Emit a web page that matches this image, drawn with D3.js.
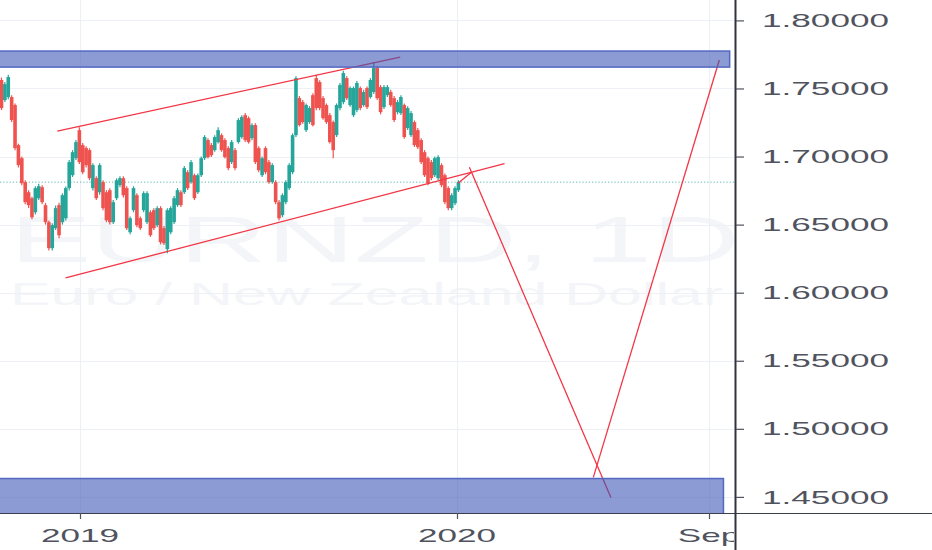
<!DOCTYPE html>
<html><head><meta charset="utf-8">
<script src="https://cdn.jsdelivr.net/npm/d3@7/dist/d3.min.js"></script>
<style>html,body{margin:0;padding:0;background:#fff;overflow:hidden}svg{display:block}</style>
</head><body><svg id="c" width="932" height="550"></svg>
<script>
// ---------- DATA ----------
const symbolTitle = "EURNZD, 1D";
const symbolName = "Euro / New Zealand Dollar";
const priceTicks = [1.45, 1.50, 1.55, 1.60, 1.65, 1.70, 1.75, 1.80];
const timeTickDates = ["2019-01-01", "2020-01-01", "2020-09-01"];
const timeTickLabels = ["2019", "2020", "Sep"];
const firstCandleDate = "2018-10-17";
const candleStepDays = 3.277;
const opens = [1.7562,1.7415,1.7437,1.7437,1.7378,1.7084,1.6988,1.6812,1.6738,1.6694,
1.6591,1.6694,1.6775,1.6643,1.6518,1.6327,1.6474,1.6643,1.6518,1.6547,
1.6768,1.6863,1.6988,1.7194,1.7084,1.7062,1.7047,1.6768,1.6841,1.6738,
1.6812,1.6738,1.6753,1.6518,1.6694,1.6790,1.6841,1.6768,1.6444,1.6606,
1.6716,1.6547,1.6606,1.6518,1.6591,1.6606,1.6496,1.6621,1.6474,1.6320,
1.6444,1.6518,1.6643,1.6738,1.6738,1.6885,1.6812,1.6863,1.6738,1.6863,
1.6988,1.7121,1.7084,1.7047,1.7106,1.7157,1.7121,1.7062,1.6959,1.7047,
1.7106,1.7143,1.7304,1.7282,1.7135,1.7231,1.7062,1.6863,1.7062,1.6959,
1.6812,1.6812,1.6665,1.6569,1.6665,1.6768,1.6885,1.7157,1.7429,1.7400,
1.7194,1.7253,1.7451,1.7576,1.7547,1.7429,1.7378,1.7304,1.7253,1.7157,
1.7356,1.7400,1.7576,1.7378,1.7304,1.7341,1.7503,1.7378,1.7503,1.7437,
1.7474,1.7650,1.7510,1.7363,1.7451,1.7474,1.7429,1.7326,1.7319,1.7378,
1.7209,1.7157,1.7253,1.7194,1.7121,1.7032,1.6988,1.6959,1.6863,1.6841,
1.6937,1.6863,1.6768,1.6621,1.6657,1.6753];
const highs = [1.7580,1.7547,1.7600,1.7451,1.7390,1.7095,1.7000,1.6826,1.6753,1.6705,
1.6782,1.6800,1.6790,1.6660,1.6530,1.6510,1.6640,1.6660,1.6730,1.6780,
1.6975,1.7047,1.7121,1.7215,1.7100,1.7075,1.7060,1.6950,1.6855,1.6950,
1.6826,1.6753,1.6768,1.6680,1.6840,1.6855,1.6855,1.6782,1.6560,1.6782,
1.6730,1.6560,1.6745,1.6745,1.6605,1.6620,1.6635,1.6635,1.6490,1.6620,
1.6635,1.6710,1.6768,1.6753,1.6930,1.6900,1.6975,1.6875,1.6875,1.7000,
1.7157,1.7135,1.7100,1.7157,1.7215,1.7170,1.7135,1.7075,1.7121,1.7062,
1.7282,1.7304,1.7320,1.7295,1.7245,1.7245,1.7075,1.7000,1.7075,1.6975,
1.6950,1.6826,1.6680,1.6730,1.6826,1.6950,1.7170,1.7590,1.7445,1.7415,
1.7390,1.7370,1.7465,1.7600,1.7560,1.7445,1.7390,1.7320,1.7265,1.7390,
1.7540,1.7630,1.7590,1.7515,1.7515,1.7555,1.7515,1.7490,1.7515,1.7576,
1.7694,1.7665,1.7525,1.7525,1.7525,1.7490,1.7445,1.7415,1.7451,1.7390,
1.7370,1.7335,1.7265,1.7209,1.7135,1.7047,1.7000,1.6975,1.7000,1.7010,
1.6950,1.6875,1.6782,1.6730,1.6782,1.6826];
const lows = [1.7341,1.7400,1.7420,1.7253,1.7047,1.6920,1.6790,1.6650,1.6621,1.6540,
1.6575,1.6680,1.6650,1.6500,1.6310,1.6310,1.6460,1.6400,1.6500,1.6530,
1.6750,1.6850,1.6975,1.6945,1.6870,1.6920,1.6826,1.6750,1.6680,1.6720,
1.6606,1.6518,1.6500,1.6505,1.6680,1.6775,1.6700,1.6460,1.6430,1.6590,
1.6480,1.6460,1.6590,1.6505,1.6410,1.6460,1.6480,1.6355,1.6350,1.6290,
1.6430,1.6505,1.6630,1.6630,1.6725,1.6755,1.6800,1.6680,1.6725,1.6850,
1.6975,1.6985,1.6996,1.7035,1.7095,1.7035,1.6985,1.6900,1.6945,1.6900,
1.7095,1.7130,1.7106,1.7095,1.7120,1.6945,1.6885,1.6850,1.6870,1.6800,
1.6800,1.6650,1.6532,1.6555,1.6650,1.6755,1.6870,1.7143,1.7220,1.7240,
1.7180,1.7240,1.7220,1.7340,1.7340,1.7270,1.7240,1.7095,1.6988,1.7143,
1.7340,1.7385,1.7415,1.7365,1.7290,1.7326,1.7340,1.7365,1.7350,1.7425,
1.7460,1.7415,1.7310,1.7350,1.7437,1.7365,1.7253,1.7310,1.7305,1.7130,
1.7195,1.7143,1.7070,1.7055,1.6945,1.6850,1.6790,1.6826,1.6850,1.6826,
1.6775,1.6650,1.6606,1.6606,1.6643,1.6740];
const closes = [1.7356,1.7532,1.7584,1.7268,1.7062,1.6937,1.6804,1.6665,1.6643,1.6554,
1.6768,1.6782,1.6665,1.6518,1.6327,1.6496,1.6621,1.6422,1.6716,1.6768,
1.6959,1.7032,1.7106,1.6959,1.6885,1.6937,1.6841,1.6937,1.6694,1.6937,
1.6621,1.6532,1.6518,1.6665,1.6826,1.6841,1.6716,1.6474,1.6547,1.6768,
1.6496,1.6474,1.6731,1.6731,1.6422,1.6474,1.6621,1.6371,1.6363,1.6606,
1.6621,1.6694,1.6753,1.6643,1.6915,1.6768,1.6959,1.6694,1.6863,1.6988,
1.7143,1.6996,1.7010,1.7143,1.7194,1.7047,1.6996,1.6915,1.7106,1.6915,
1.7268,1.7290,1.7121,1.7106,1.7231,1.6959,1.6900,1.6988,1.6885,1.6812,
1.6937,1.6665,1.6547,1.6716,1.6812,1.6937,1.7157,1.7576,1.7231,1.7253,
1.7378,1.7356,1.7231,1.7356,1.7356,1.7282,1.7253,1.7106,1.7047,1.7378,
1.7525,1.7613,1.7429,1.7503,1.7503,1.7540,1.7356,1.7474,1.7363,1.7562,
1.7650,1.7429,1.7326,1.7510,1.7510,1.7378,1.7268,1.7400,1.7437,1.7143,
1.7356,1.7319,1.7084,1.7069,1.6959,1.6863,1.6804,1.6841,1.6988,1.6996,
1.6790,1.6665,1.6621,1.6716,1.6768,1.6812];
// drawings: trend lines [date, price] pairs
const upperChannel = [["2018-12-10", 1.7187], ["2019-11-07", 1.7731]];
const lowerChannel = [["2018-12-18", 1.6108], ["2020-02-16", 1.6948]];
const projUp1 = [["2020-01-02", 1.6804], ["2020-01-15", 1.6885]];
const projDown = [["2020-01-13", 1.6922], ["2020-05-29", 1.4496]];
const projUp2 = [["2020-05-12", 1.4643], ["2020-09-11", 1.7709]];
// zones: [startDate, endDate, topPrice, bottomPrice]
const upperZone = ["2018-09-01", "2020-09-21", 1.7775, 1.7657];
const lowerZone = ["2018-09-01", "2020-09-15", 1.4635, 1.4300];

// ---------- LAYOUT ----------
const W = 932, H = 550, plotW = 734, plotH = 513;
const svg = d3.select("#c");
const parse = d3.utcParse("%Y-%m-%d");
const x = d3.scaleUtc().domain([parse("2019-01-01"), parse("2020-09-01")]).range([80, 709]);
const y = d3.scaleLinear().domain([1.45, 1.80]).range([496.9, 20.4]);
const SX = 1.9; // horizontal stretch of the picture text
const font = "'Liberation Sans', Arial, sans-serif";

const t0 = parse(firstCandleDate).getTime();
const candles = closes.map((c, i) => ({
  date: new Date(t0 + i * candleStepDays * 86400000),
  o: opens[i], h: highs[i], l: lows[i], c: c
}));

svg.append("rect").attr("width", W).attr("height", H).attr("fill", "#fff");
svg.append("clipPath").attr("id", "plotclip").append("rect").attr("width", plotW).attr("height", plotH);
const plot = svg.append("g").attr("clip-path", "url(#plotclip)");

// watermark
plot.append("text").attr("transform", `translate(10,262) scale(${SX},1)`)
  .attr("font-family", font).attr("font-size", 64).attr("fill", "#f4f5f8").text(symbolTitle);
plot.append("text").attr("transform", `translate(10,305) scale(${SX},1)`)
  .attr("font-family", font).attr("font-size", 32).attr("fill", "#f4f5f8").text(symbolName);

// grid
plot.append("g").selectAll("line").data(priceTicks).join("line")
  .attr("x1", 0).attr("x2", plotW).attr("y1", d => Math.round(y(d)) + 0.5).attr("y2", d => Math.round(y(d)) + 0.5)
  .attr("stroke", "#edf0f6").attr("stroke-width", 1.2);
plot.append("g").selectAll("line").data(timeTickDates).join("line")
  .attr("x1", d => Math.round(x(parse(d))) + 0.5).attr("x2", d => Math.round(x(parse(d))) + 0.5)
  .attr("y1", 0).attr("y2", plotH).attr("stroke", "#edf0f6").attr("stroke-width", 1.2);

// last price line
const lastClose = closes[closes.length - 1];
plot.append("line").attr("x1", 0).attr("x2", plotW)
  .attr("y1", y(lastClose)).attr("y2", y(lastClose))
  .attr("stroke", "#26a69a").attr("stroke-opacity", 0.75).attr("stroke-dasharray", "1.2 2");

// candles
const up = "#26a69a", dn = "#ef5350";
const cg = plot.append("g");
cg.selectAll("line").data(candles).join("line")
  .attr("x1", d => x(d.date)).attr("x2", d => x(d.date))
  .attr("y1", d => y(d.h)).attr("y2", d => y(d.l))
  .attr("stroke", d => d.c >= d.o ? up : dn).attr("stroke-width", 1.2);
cg.selectAll("rect").data(candles).join("rect")
  .attr("x", d => x(d.date) - 1.8).attr("width", 3.6)
  .attr("y", d => y(Math.max(d.o, d.c)))
  .attr("height", d => Math.max(1, Math.abs(y(d.o) - y(d.c))))
  .attr("fill", d => d.c >= d.o ? up : dn);

// trend lines
const line = d3.line().x(d => x(parse(d[0]))).y(d => y(d[1]));
[upperChannel, lowerChannel, projUp1, projDown, projUp2].forEach(seg => {
  plot.append("path").attr("d", line(seg)).attr("fill", "none")
    .attr("stroke", "#f23645").attr("stroke-width", 1.3);
});

// zones
[upperZone, lowerZone].forEach(z => {
  const x0 = x(parse(z[0])), x1 = x(parse(z[1]));
  plot.append("rect").attr("x", x0).attr("width", x1 - x0)
    .attr("y", y(z[2])).attr("height", y(z[3]) - y(z[2]))
    .attr("fill", "rgba(57,83,180,0.58)").attr("stroke", "#5368c2").attr("stroke-width", 1.5);
});

// axes
svg.append("line").attr("x1", 0).attr("x2", W).attr("y1", plotH + 0.5).attr("y2", plotH + 0.5)
  .attr("stroke", "#3b3f4b").attr("stroke-width", 1);
svg.append("line").attr("x1", 735.5).attr("x2", 735.5).attr("y1", 0).attr("y2", H)
  .attr("stroke", "#2f333e").attr("stroke-width", 2);

const yAxis = d3.axisRight(y).tickValues(priceTicks).tickSize(8).tickFormat("");
svg.append("g").attr("transform", "translate(736,0)").call(yAxis)
  .call(g => g.select(".domain").remove())
  .call(g => g.selectAll(".tick line").attr("stroke", "#50535e").attr("stroke-width", 1.2));
svg.append("g").selectAll("text").data(priceTicks).join("text")
  .attr("transform", d => `translate(762,${y(d) + 6.6}) scale(${SX},1)`)
  .attr("font-family", font).attr("font-size", 18.5).attr("fill", "#50535e")
  .text(d => d.toFixed(5));

const xAxis = d3.axisBottom(x).tickValues(timeTickDates.map(parse)).tickSize(6).tickFormat("");
svg.append("g").attr("transform", `translate(0,${plotH})`).call(xAxis)
  .call(g => g.select(".domain").remove())
  .call(g => g.selectAll(".tick line").attr("stroke", "#50535e").attr("stroke-width", 1.2));
svg.append("clipPath").attr("id", "xclip").append("rect").attr("width", 734).attr("height", H);
svg.append("g").attr("clip-path", "url(#xclip)").selectAll("text").data(timeTickDates).join("text")
  .attr("transform", d => `translate(${x(parse(d))},542) scale(${SX},1)`)
  .attr("text-anchor", "middle")
  .attr("font-family", font).attr("font-size", 18.5).attr("fill", "#50535e")
  .text((d, i) => timeTickLabels[i]);
</script>
</body></html>
